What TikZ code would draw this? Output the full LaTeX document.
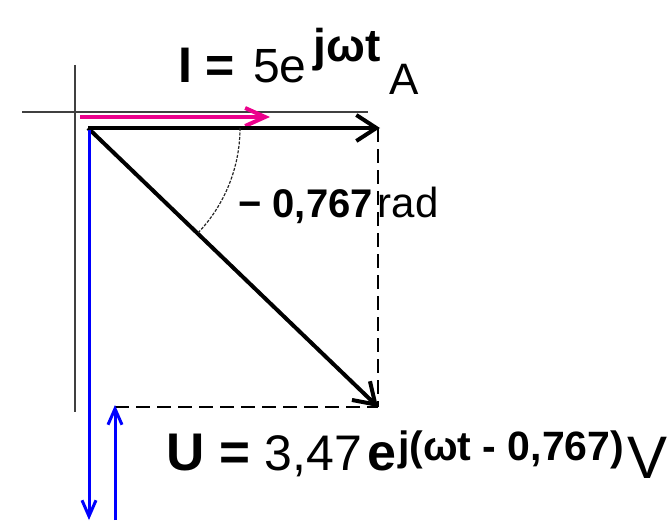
\documentclass[tikz,border=0pt]{standalone}
\usepackage{fontspec}
\setmainfont{Liberation Sans}
\usetikzlibrary{arrows.meta}

\tikzset{
    axis/.style={line width=1.5pt, black!75},
    phasor/.style={line width=4pt, -{Straight Barb[length=20pt,width=26pt]}},
    helper/.style={line width=1.3pt, dash pattern=on 14pt off 7pt},
    txt/.style={anchor=base west, inner sep=0pt}
}
\newcommand{\fs}[1]{\fontsize{#1}{#1}\selectfont}

\begin{document}
\begin{tikzpicture}[x=1pt,y=1pt]
\useasboundingbox (0,0) rectangle (668,-524);

% Points
\coordinate (O) at (88,-128);
\coordinate (Itip) at (380,-128);
\coordinate (Utip) at (378,-407);

% Axes
\draw[axis] (22,-112) -- (368,-112);
\draw[axis] (75,-65) -- (75,-412);

% Projections
\draw[helper] (Utip |- Itip) -- (Utip);
\draw[helper] (115,-407) -- (Utip);

% Current (magenta)
\draw[magenta, line width=4pt, -{Straight Barb[length=20pt,width=18pt]}] (80,-117) -- (270,-117);

% Phasors
\draw[phasor] (O) -- (Itip);
\draw[phasor] (O) -- (Utip);

% Angle
\draw[line width=1.2pt, dash pattern=on 3pt off 1.5pt, black!85] (240,-128) arc[start angle=0, end angle=-43.9, radius=152];

% Blue arrows
\draw[blue, line width=3pt, -{Straight Barb[length=16pt,width=14pt]}] (89,-130) -- (89,-520);
\draw[blue, line width=3pt, -{Straight Barb[length=16pt,width=14pt]}] (115,-520) -- (115,-405);

% Labels
\node[txt] (ilabel) at (178,-83) {{\fs{50}\bfseries I = }\kern4pt{\fs{48}5e}\kern7pt\raisebox{21pt}{\fs{46}\bfseries jωt}\kern9pt\raisebox{-12pt}{\fs{44}A}};
\node[txt] (alabel) at (238,-217) {{\fs{40}\bfseries − 0,767}\kern5pt{\fs{42}rad}};
\node[txt] (ulabel) at (166,-470) {{\fs{53}\bfseries U = }{\fs{50}3,47\kern5pt{\fs{52}\bfseries e}}\kern2pt\raisebox{10pt}{\fs{41}\bfseries j(ωt - 0,767)}\kern3pt\raisebox{-8pt}{\fs{60}V}};

\end{tikzpicture}
\end{document}
